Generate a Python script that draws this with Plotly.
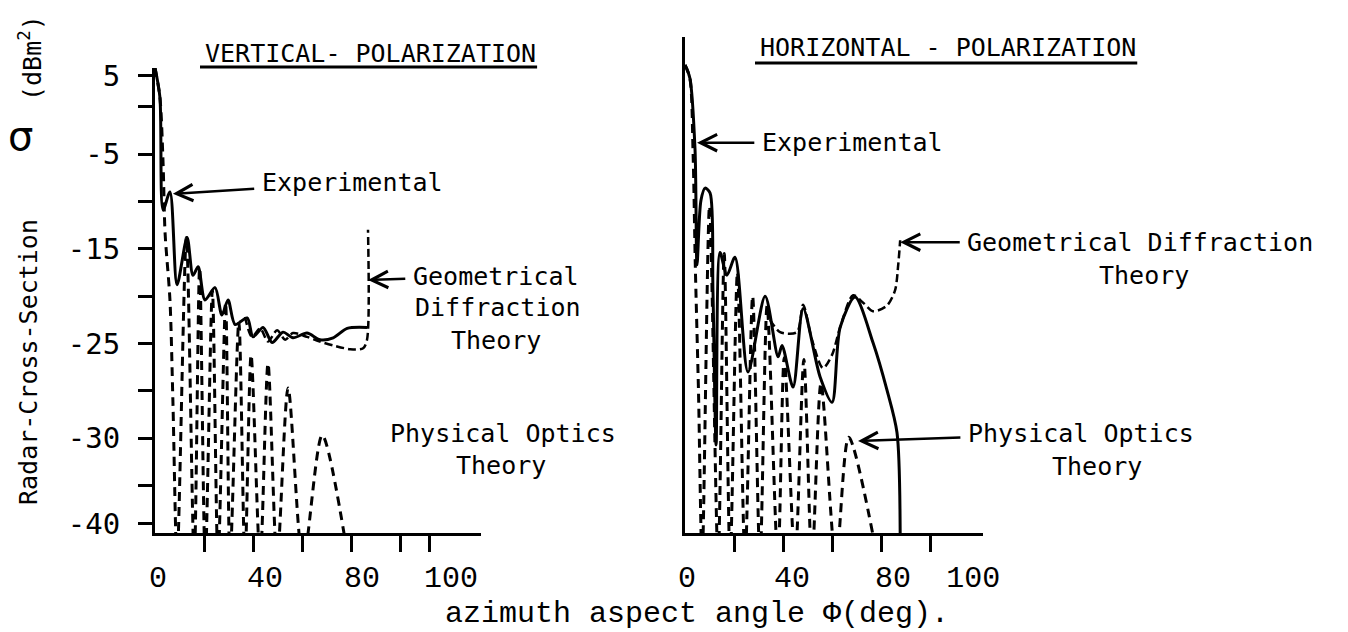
import plotly.graph_objects as go

W, H = 1348, 632

# ---- vertical polarization (left panel), angle in deg, RCS in dBm^2 ----
vert_exp_deg = [0, 2.0, 3.3, 6.1, 9.0, 13.1, 15.5, 17.6, 20.4, 24.5, 27.3, 29.8, 32.7,
                37.6, 40.0, 44.1, 47.8, 52.2, 56.3, 62.0, 67.3, 72.7, 78.4, 86.5]
vert_exp_db = [4.1, 1.0, -10.9, -9.0, -18.8, -13.8, -17.8, -16.9, -20.4, -19.1, -22.0, -20.4, -23.0,
               -22.3, -24.3, -23.3, -24.9, -23.8, -24.4, -23.9, -24.6, -24.4, -23.4, -23.3]

vert_gtd_deg = [36.7, 39.6, 42.9, 46.1, 49.8, 53.1, 56.3, 62.0, 67.3, 72.7, 79.6, 84.9, 86.5, 86.9]
vert_gtd_db = [-22.2, -24.3, -23.4, -24.8, -23.6, -24.6, -23.9, -24.3, -24.8, -25.2, -25.6, -25.5, -24.6, -13.0]

vert_po_deg = [0, 2.0, 3.3, 4.1, 6.1, 7.3, 9.0, 12.8, 16.0, 18.2, 20.5, 23.4, 25.7, 28.8, 30.6,
               34.2, 36.7, 39.2, 42.9, 46.1, 49.8, 54.3, 60.4, 68.2, 79.0]
vert_po_db = [4.1, 1.0, -6.0, -13.3, -20.4, -31.0, -48, -13.8, -48, -17.0, -48, -19.4, -48, -20.7, -48,
              -22.7, -48, -26.2, -48, -27.1, -48, -29.7, -48, -34.7, -48]

# ---- horizontal polarization (right panel) ----
horiz_exp_deg = [0, 2.0, 4.1, 4.9, 6.5, 8.2, 10.2, 11.4, 12.7, 14.3, 17.1, 20.4, 25.7, 32.7, 38.0,
                 39.6, 44.1, 48.2, 55.1, 60.0, 63.3, 69.4, 76.7, 82.4, 86.5, 87.8]
horiz_exp_db = [4.4, 3.0, -4.6, -16.7, -9.9, -8.6, -9.1, -19.4, -35.7, -15.4, -17.8, -15.9, -28.0, -20.0, -26.4,
                -25.2, -29.6, -21.3, -28.5, -31.2, -23.3, -20.1, -24.9, -29.9, -34.4, -45.0]

horiz_gtd_deg = [34.7, 38.8, 45.7, 48.2, 51.8, 56.3, 60.0, 63.3, 68.6, 72.7, 76.7, 82.4, 85.7, 87.0, 87.8]
horiz_gtd_db = [-22.5, -23.8, -23.8, -20.9, -24.6, -27.6, -26.2, -23.3, -19.9, -20.7, -21.6, -21.0, -19.4, -16.7, -14.1]

horiz_po_deg = [0, 2.0, 3.3, 4.2, 5.5, 7.0, 10.0, 13.5, 16.0, 18.4, 21.4, 24.5, 27.6, 30.6, 33.5, 37.9,
                40.5, 44.9, 48.5, 51.8, 55.5, 61.6, 66.8, 78.8]
horiz_po_db = [4.4, 3.0, -5.0, -16.7, -30.0, -48, -10.5, -48, -15.5, -48, -17.5, -48, -20.0, -48, -21.0, -48,
               -26.5, -48, -26.7, -48, -29.2, -48, -34.9, -48]

# ---- axis ticks as printed (labels typed where they sit on the original) ----
y_tick_vals = [3.3, -5, -15, -25, -35, -44]
y_tick_text = ["5", "-5", "-15", "-25", "-30", "-40"]
y_minor_vals = [0, -10, -20, -30, -40]
x_mark_left = [20, 40, 60, 80, 100, 112]
x_mark_right = [20, 40, 60, 80, 100]
x_tick_text = ["0", "40", "80", "100"]
x_label_at_left = [1.2, 44.9, 84.5, 120.8]
x_label_at_right = [0.8, 43.7, 84.9, 117.6]


def X(p):
    return p / W


def Y(p):
    return 1 - p / H


solid = dict(color="black", width=3, shape="spline", smoothing=0.8)
dashed = dict(color="black", width=3, dash="9px,6px", shape="spline", smoothing=0.8)
gtd = dict(color="black", width=2.5, dash="8px,4px", shape="spline", smoothing=0.8)

fig = go.Figure()
fig.add_trace(go.Scatter(x=vert_po_deg, y=vert_po_db, mode="lines", line=dashed, xaxis="x", yaxis="y"))
fig.add_trace(go.Scatter(x=vert_gtd_deg, y=vert_gtd_db, mode="lines", line=gtd, xaxis="x", yaxis="y"))
fig.add_trace(go.Scatter(x=vert_exp_deg, y=vert_exp_db, mode="lines", line=solid, xaxis="x", yaxis="y"))
fig.add_trace(go.Scatter(x=horiz_po_deg, y=horiz_po_db, mode="lines", line=dashed, xaxis="x2", yaxis="y2"))
fig.add_trace(go.Scatter(x=horiz_gtd_deg, y=horiz_gtd_db, mode="lines", line=gtd, xaxis="x2", yaxis="y2"))
fig.add_trace(go.Scatter(x=horiz_exp_deg, y=horiz_exp_db, mode="lines", line=solid, xaxis="x2", yaxis="y2"))

axis_common = dict(showline=True, linewidth=3, linecolor="black", showgrid=False, zeroline=False,
                   automargin=False)
# printed labels are major ticks with no mark; the tick marks are the minor ticks
xtick_style = dict(ticks="outside", ticklen=0, tickwidth=0, tickangle=0, ticktext=x_tick_text,
                   ticklabelstandoff=15, tickfont=dict(family="Liberation Mono", size=30, color="black"))


def xmarks(vals):
    return dict(tickvals=vals, ticks="outside", ticklen=16, tickwidth=3, tickcolor="black", showgrid=False)


fig.update_layout(
    width=W, height=H, autosize=False,
    margin=dict(l=0, r=0, t=0, b=0, pad=0, autoexpand=False),
    paper_bgcolor="white", plot_bgcolor="white",
    showlegend=False,
    xaxis=dict(domain=[X(155), X(481)], range=[0, 133], anchor="y", tickvals=x_label_at_left,
               minor=xmarks(x_mark_left), **axis_common, **xtick_style),
    yaxis=dict(domain=[Y(533), Y(68)], range=[-45, 4.08], anchor="x", **axis_common,
               ticks="outside", ticklen=14, tickwidth=3, tickcolor="black",
               tickvals=y_tick_vals, ticktext=y_tick_text, ticklabelstandoff=12,
               tickfont=dict(family="DejaVu Sans Mono", size=29, color="black"),
               minor=dict(tickvals=y_minor_vals, ticks="outside", ticklen=14, tickwidth=3, tickcolor="black")),
    xaxis2=dict(domain=[X(685), X(983)], range=[0, 121.6], anchor="y2", tickvals=x_label_at_right,
                minor=xmarks(x_mark_right), **axis_common, **xtick_style),
    yaxis2=dict(domain=[Y(533), Y(37)], range=[-45, 7.35], anchor="x2", **axis_common,
                ticks="", showticklabels=False),
)

FS = 25
CW = FS * 0.602  # DejaVu Sans Mono advance width
txt = dict(family="DejaVu Sans Mono", size=FS, color="black")


def label(text, x, y, xanchor="left", **kw):
    fig.add_annotation(text=text, x=X(x), y=Y(y), xref="paper", yref="paper",
                       xanchor=xanchor, yanchor="middle", showarrow=False, font=kw.pop("font", txt), **kw)


def pointer(text, left, y, xref, yref, hx, hy, head_px):
    # text whose left edge is at pixel `left`; arrow runs from it to the curve point (hx, hy)
    cx = left + len(text) * CW / 2
    fig.add_annotation(text=text, x=hx, y=hy, xref=xref, yref=yref,
                       ax=cx - head_px[0], ay=y - head_px[1], axref="pixel", ayref="pixel",
                       xanchor="center", yanchor="middle",
                       showarrow=True, arrowhead=5, arrowsize=1.3, arrowwidth=2.5, arrowcolor="black",
                       standoff=0, startstandoff=6, font=txt)


# titles
label("VERTICAL- POLARIZATION", 203, 53)
label("HORIZONTAL - POLARIZATION", 758, 48)
fig.add_shape(type="line", xref="paper", yref="paper", x0=X(200), x1=X(203 + 22 * CW + 3), y0=Y(67), y1=Y(67),
              line=dict(color="black", width=3))
fig.add_shape(type="line", xref="paper", yref="paper", x0=X(755), x1=X(758 + 25 * CW + 3), y0=Y(63), y1=Y(63),
              line=dict(color="black", width=3))

# left panel labels
pointer("Experimental", 262, 180, "x", "y", 7.3, -9.2, (173, 191))
pointer("Geometrical", 413, 276, "x", "y", 86.9, -18.3, (368, 280))
label("Diffraction", 413, 308)
label("Theory", 413 + 11 * CW / 2, 340, xanchor="center")
label("Physical Optics", 388, 433)
label("Theory", 388 + 15 * CW / 2, 465, xanchor="center")

# right panel labels
pointer("Experimental", 762, 143, "x2", "y2", 4.9, -3.8, (697, 143))
pointer("Geometrical Diffraction", 967, 242, "x2", "y2", 87.8, -14.3, (900, 242))
label("Theory", 1097, 275)
pointer("Physical Optics", 968, 433, "x2", "y2", 70.6, -35.3, (858, 441))
label("Theory", 1050, 466)

# y axis title
label("Radar-Cross-Section", 28, 362, xanchor="center", textangle=-90)
label("(dBm<sup>2</sup>)", 30, 58, xanchor="center", textangle=-90)
label("σ", 20, 136, xanchor="center", font=dict(family="DejaVu Sans", size=40, color="black"))

# x axis title
label("azimuth aspect angle Φ(deg).", 697, 614, xanchor="center",
      font=dict(family="Liberation Mono", size=30, color="black"))

fig.write_html("out.html", config={"displayModeBar": False},
               post_script="document.body.style.margin='0px';")
